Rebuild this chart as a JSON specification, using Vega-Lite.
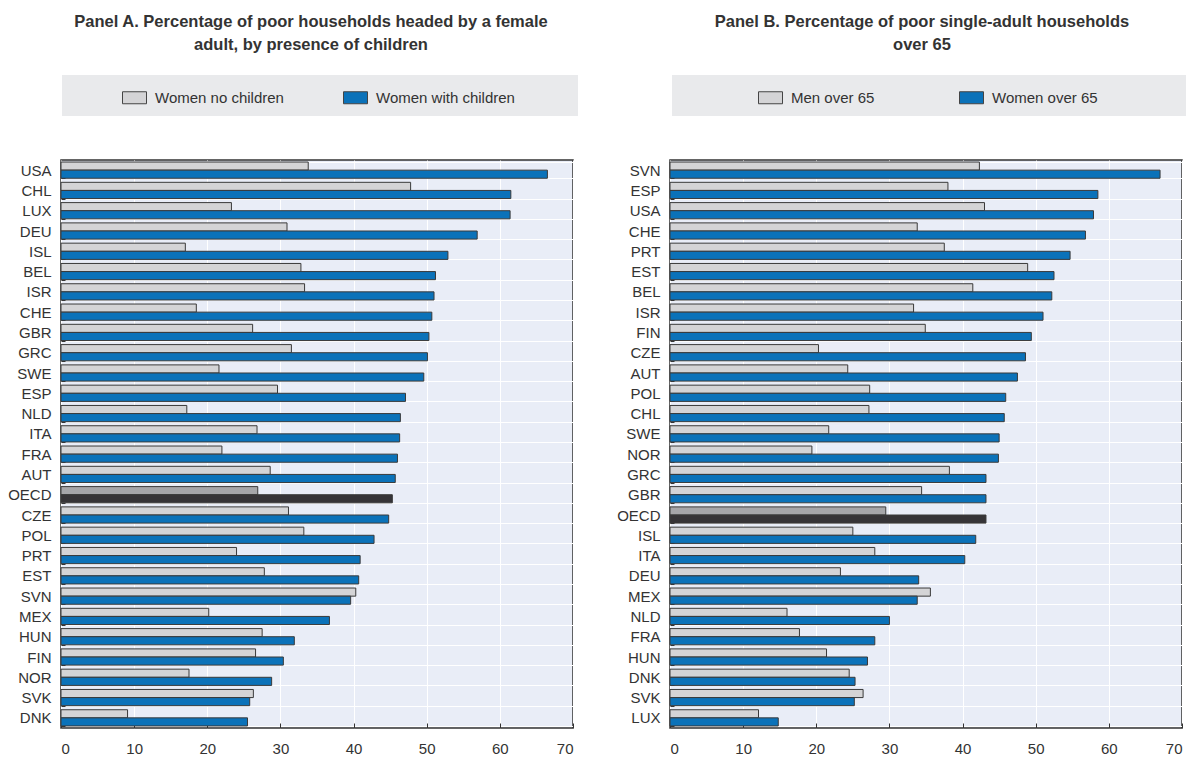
{
  "$schema": "https://vega.github.io/schema/vega-lite/v6.json",
  "background": "white",
  "padding": {"left": 6, "top": 12, "right": 5, "bottom": 0},
  "spacing": 97,
  "bounds": "flush",
  "resolve": {
    "scale": {"x": "independent", "y": "independent", "yOffset": "independent", "fill": "independent"},
    "legend": {"fill": "independent"},
    "axis": {"x": "independent", "y": "independent"}
  },
  "config": {
    "font": "Liberation Sans",
    "view": {"fill": "#e9edf7", "stroke": "#333333", "strokeWidth": 1.5},
    "axis": {"labelFont": "Liberation Sans", "labelFontSize": 15, "labelColor": "#333333", "gridColor": "#ffffff", "gridWidth": 1, "gridOpacity": 1, "tickColor": "#333333", "domain": false, "title": null},
    "legend": {"labelFont": "Liberation Sans", "labelFontSize": 15, "labelColor": "#333333", "titleFont": "Liberation Sans", "titleFontSize": 15},
    "title": {"font": "Liberation Sans", "fontSize": 16.5, "fontWeight": "bold", "color": "#333333", "anchor": "middle", "frame": "group", "lineHeight": 23, "offset": 22}
  },
  "datasets": {
    "A": [
      {"country": "USA", "series": "Women no children", "value": 33.8}, {"country": "USA", "series": "Women with children", "value": 66.5},
      {"country": "CHL", "series": "Women no children", "value": 47.8}, {"country": "CHL", "series": "Women with children", "value": 61.5},
      {"country": "LUX", "series": "Women no children", "value": 23.3}, {"country": "LUX", "series": "Women with children", "value": 61.4},
      {"country": "DEU", "series": "Women no children", "value": 30.9}, {"country": "DEU", "series": "Women with children", "value": 56.9},
      {"country": "ISL", "series": "Women no children", "value": 17.0}, {"country": "ISL", "series": "Women with children", "value": 52.9},
      {"country": "BEL", "series": "Women no children", "value": 32.8}, {"country": "BEL", "series": "Women with children", "value": 51.2},
      {"country": "ISR", "series": "Women no children", "value": 33.3}, {"country": "ISR", "series": "Women with children", "value": 51.0},
      {"country": "CHE", "series": "Women no children", "value": 18.5}, {"country": "CHE", "series": "Women with children", "value": 50.7},
      {"country": "GBR", "series": "Women no children", "value": 26.2}, {"country": "GBR", "series": "Women with children", "value": 50.3},
      {"country": "GRC", "series": "Women no children", "value": 31.5}, {"country": "GRC", "series": "Women with children", "value": 50.1},
      {"country": "SWE", "series": "Women no children", "value": 21.6}, {"country": "SWE", "series": "Women with children", "value": 49.6},
      {"country": "ESP", "series": "Women no children", "value": 29.6}, {"country": "ESP", "series": "Women with children", "value": 47.1},
      {"country": "NLD", "series": "Women no children", "value": 17.2}, {"country": "NLD", "series": "Women with children", "value": 46.4},
      {"country": "ITA", "series": "Women no children", "value": 26.8}, {"country": "ITA", "series": "Women with children", "value": 46.3},
      {"country": "FRA", "series": "Women no children", "value": 22.0}, {"country": "FRA", "series": "Women with children", "value": 46.0},
      {"country": "AUT", "series": "Women no children", "value": 28.6}, {"country": "AUT", "series": "Women with children", "value": 45.7},
      {"country": "OECD", "series": "Women no children", "value": 26.9}, {"country": "OECD", "series": "Women with children", "value": 45.3},
      {"country": "CZE", "series": "Women no children", "value": 31.1}, {"country": "CZE", "series": "Women with children", "value": 44.8},
      {"country": "POL", "series": "Women no children", "value": 33.2}, {"country": "POL", "series": "Women with children", "value": 42.8},
      {"country": "PRT", "series": "Women no children", "value": 24.0}, {"country": "PRT", "series": "Women with children", "value": 40.9},
      {"country": "EST", "series": "Women no children", "value": 27.8}, {"country": "EST", "series": "Women with children", "value": 40.7},
      {"country": "SVN", "series": "Women no children", "value": 40.3}, {"country": "SVN", "series": "Women with children", "value": 39.6},
      {"country": "MEX", "series": "Women no children", "value": 20.2}, {"country": "MEX", "series": "Women with children", "value": 36.7},
      {"country": "HUN", "series": "Women no children", "value": 27.5}, {"country": "HUN", "series": "Women with children", "value": 31.9},
      {"country": "FIN", "series": "Women no children", "value": 26.6}, {"country": "FIN", "series": "Women with children", "value": 30.4},
      {"country": "NOR", "series": "Women no children", "value": 17.5}, {"country": "NOR", "series": "Women with children", "value": 28.8},
      {"country": "SVK", "series": "Women no children", "value": 26.3}, {"country": "SVK", "series": "Women with children", "value": 25.8},
      {"country": "DNK", "series": "Women no children", "value": 9.1}, {"country": "DNK", "series": "Women with children", "value": 25.5}
    ],
    "B": [
      {"country": "SVN", "series": "Men over 65", "value": 42.3}, {"country": "SVN", "series": "Women over 65", "value": 67.0},
      {"country": "ESP", "series": "Men over 65", "value": 38.0}, {"country": "ESP", "series": "Women over 65", "value": 58.5},
      {"country": "USA", "series": "Men over 65", "value": 43.0}, {"country": "USA", "series": "Women over 65", "value": 57.9},
      {"country": "CHE", "series": "Men over 65", "value": 33.8}, {"country": "CHE", "series": "Women over 65", "value": 56.8},
      {"country": "PRT", "series": "Men over 65", "value": 37.5}, {"country": "PRT", "series": "Women over 65", "value": 54.7},
      {"country": "EST", "series": "Men over 65", "value": 48.9}, {"country": "EST", "series": "Women over 65", "value": 52.5},
      {"country": "BEL", "series": "Men over 65", "value": 41.4}, {"country": "BEL", "series": "Women over 65", "value": 52.2},
      {"country": "ISR", "series": "Men over 65", "value": 33.3}, {"country": "ISR", "series": "Women over 65", "value": 51.0},
      {"country": "FIN", "series": "Men over 65", "value": 34.9}, {"country": "FIN", "series": "Women over 65", "value": 49.4},
      {"country": "CZE", "series": "Men over 65", "value": 20.3}, {"country": "CZE", "series": "Women over 65", "value": 48.6},
      {"country": "AUT", "series": "Men over 65", "value": 24.3}, {"country": "AUT", "series": "Women over 65", "value": 47.5},
      {"country": "POL", "series": "Men over 65", "value": 27.3}, {"country": "POL", "series": "Women over 65", "value": 45.9},
      {"country": "CHL", "series": "Men over 65", "value": 27.2}, {"country": "CHL", "series": "Women over 65", "value": 45.7},
      {"country": "SWE", "series": "Men over 65", "value": 21.7}, {"country": "SWE", "series": "Women over 65", "value": 45.0},
      {"country": "NOR", "series": "Men over 65", "value": 19.4}, {"country": "NOR", "series": "Women over 65", "value": 44.9},
      {"country": "GRC", "series": "Men over 65", "value": 38.2}, {"country": "GRC", "series": "Women over 65", "value": 43.2},
      {"country": "GBR", "series": "Men over 65", "value": 34.4}, {"country": "GBR", "series": "Women over 65", "value": 43.2},
      {"country": "OECD", "series": "Men over 65", "value": 29.5}, {"country": "OECD", "series": "Women over 65", "value": 43.2},
      {"country": "ISL", "series": "Men over 65", "value": 25.0}, {"country": "ISL", "series": "Women over 65", "value": 41.8},
      {"country": "ITA", "series": "Men over 65", "value": 28.0}, {"country": "ITA", "series": "Women over 65", "value": 40.3},
      {"country": "DEU", "series": "Men over 65", "value": 23.3}, {"country": "DEU", "series": "Women over 65", "value": 34.0},
      {"country": "MEX", "series": "Men over 65", "value": 35.6}, {"country": "MEX", "series": "Women over 65", "value": 33.8},
      {"country": "NLD", "series": "Men over 65", "value": 16.0}, {"country": "NLD", "series": "Women over 65", "value": 30.0},
      {"country": "FRA", "series": "Men over 65", "value": 17.7}, {"country": "FRA", "series": "Women over 65", "value": 28.0},
      {"country": "HUN", "series": "Men over 65", "value": 21.4}, {"country": "HUN", "series": "Women over 65", "value": 27.0},
      {"country": "DNK", "series": "Men over 65", "value": 24.5}, {"country": "DNK", "series": "Women over 65", "value": 25.3},
      {"country": "SVK", "series": "Men over 65", "value": 26.4}, {"country": "SVK", "series": "Women over 65", "value": 25.2},
      {"country": "LUX", "series": "Men over 65", "value": 12.1}, {"country": "LUX", "series": "Women over 65", "value": 14.8}
    ]
  },
  "hconcat": [
    {
      "title": {"text": ["Panel A. Percentage of poor households headed by a female", "adult, by presence of children"], "dx": -6},
      "width": 512,
      "height": 568,
      "data": {"name": "A"},
      "mark": {"type": "bar", "stroke": "#3a3a3a", "strokeWidth": 1},
      "encoding": {
        "y": {"field": "country", "type": "nominal", "sort": null, "scale": {"paddingInner": 0.2, "paddingOuter": 0.1},
              "axis": {"tickBand": "extent", "grid": true, "ticks": true, "tickSize": -4, "labelPadding": 14}},
        "yOffset": {"field": "series", "type": "nominal", "sort": null, "scale": {"paddingInner": 0, "paddingOuter": 0}},
        "x": {"field": "value", "type": "quantitative", "scale": {"domain": [0, 70], "nice": false},
              "axis": {"values": [0, 10, 20, 30, 40, 50, 60, 70], "grid": true, "tickSize": -5, "labelPadding": 18}},
        "fill": {
          "condition": [
            {"test": "datum.country === 'OECD' && datum.series === 'Women no children'", "value": "#a6a6a9"},
            {"test": "datum.country === 'OECD'", "value": "#363437"}
          ],
          "field": "series", "type": "nominal", "sort": null,
          "scale": {"domain": ["Women no children", "Women with children"], "range": ["#d4d4d6", "#0b72b9"]},
          "legend": {"title": "\u00a0", "titleOrient": "right", "titlePadding": 53, "orient": "none", "legendX": 1, "legendY": -85, "direction": "horizontal",
                     "fillColor": "#e9eaec", "padding": 10, "symbolType": "M-1,-0.5H1V0.5H-1Z", "symbolSize": 576,
                     "symbolStrokeColor": "#444444", "symbolStrokeWidth": 1, "labelOffset": 8, "symbolOffset": 50,
                     "columnPadding": 9, "labelLimit": 400}
        }
      }
    },
    {
      "title": {"text": ["Panel B. Percentage of poor single-adult households", "over 65"], "dx": -4},
      "width": 512,
      "height": 568,
      "data": {"name": "B"},
      "mark": {"type": "bar", "stroke": "#3a3a3a", "strokeWidth": 1},
      "encoding": {
        "y": {"field": "country", "type": "nominal", "sort": null, "scale": {"paddingInner": 0.2, "paddingOuter": 0.1},
              "axis": {"tickBand": "extent", "grid": true, "ticks": true, "tickSize": -4, "labelPadding": 14}},
        "yOffset": {"field": "series", "type": "nominal", "sort": null, "scale": {"paddingInner": 0, "paddingOuter": 0}},
        "x": {"field": "value", "type": "quantitative", "scale": {"domain": [0, 70], "nice": false},
              "axis": {"values": [0, 10, 20, 30, 40, 50, 60, 70], "grid": true, "tickSize": -5, "labelPadding": 18}},
        "fill": {
          "condition": [
            {"test": "datum.country === 'OECD' && datum.series === 'Men over 65'", "value": "#a6a6a9"},
            {"test": "datum.country === 'OECD'", "value": "#363437"}
          ],
          "field": "series", "type": "nominal", "sort": null,
          "scale": {"domain": ["Men over 65", "Women over 65"], "range": ["#d4d4d6", "#0b72b9"]},
          "legend": {"title": "\u00a0", "titleOrient": "right", "titlePadding": 78, "orient": "none", "legendX": 2, "legendY": -85, "direction": "horizontal",
                     "fillColor": "#e9eaec", "padding": 10, "symbolType": "M-1,-0.5H1V0.5H-1Z", "symbolSize": 576,
                     "symbolStrokeColor": "#444444", "symbolStrokeWidth": 1, "labelOffset": 8, "symbolOffset": 76,
                     "columnPadding": 8, "labelLimit": 400}
        }
      }
    }
  ]
}
